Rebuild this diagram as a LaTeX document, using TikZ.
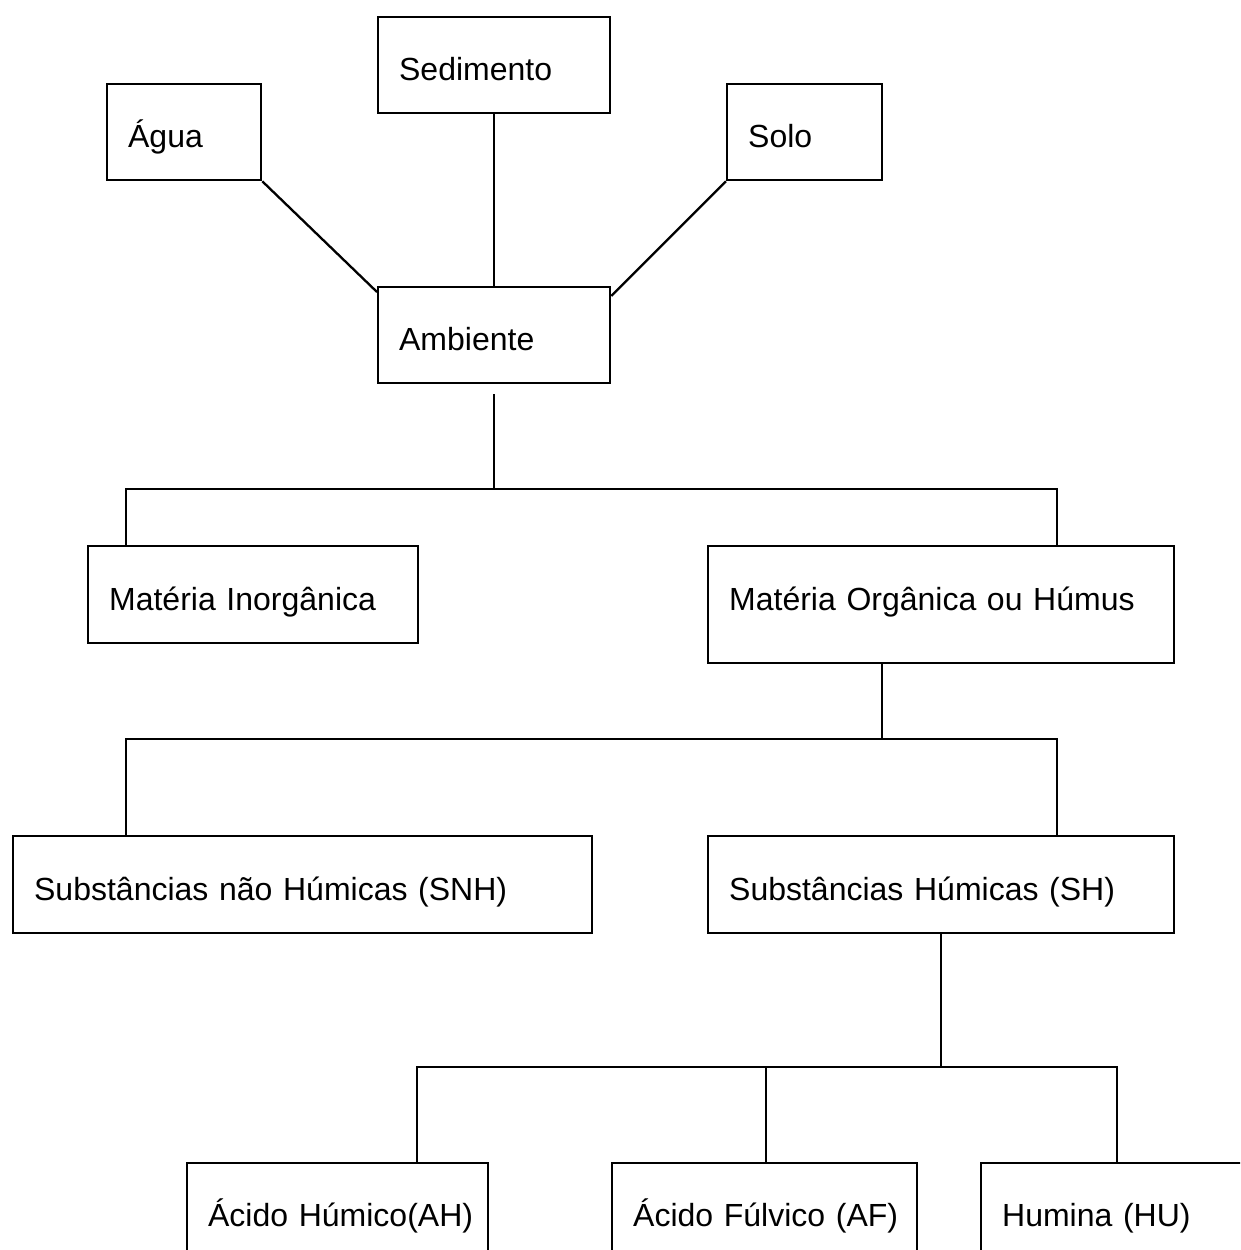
\documentclass[tikz,border=0pt]{standalone}
\usepackage{fontspec}
\setmainfont{Liberation Sans}
\usetikzlibrary{calc}
\tikzset{
  bx/.style={draw, line width=2.3pt, anchor=north west, inner xsep=21pt, inner ysep=0pt,
    align=left, font=\fontsize{32}{38}\selectfont},
  ln/.style={line width=2.3pt},
}
\begin{document}
\begin{tikzpicture}[x=1pt, y=-1pt]
\useasboundingbox (0,0) rectangle (1240,1250);
\clip (0,0) rectangle (1240,1250);
% boxes
\node[bx, text width=190pt, text height=63pt, text depth=33pt] (sed) at (377,16) {Sedimento};
\node[bx, text width=112pt, text height=63pt, text depth=33pt] (agua) at (106,83) {Água};
\node[bx, text width=113pt, text height=63pt, text depth=33pt] (solo) at (726,83) {Solo};
\node[bx, text width=190pt, text height=63pt, text depth=33pt] (amb) at (377,286) {Ambiente};
\node[bx, text width=288pt, text height=64pt, text depth=33pt] (mi) at (87,545) {\mbox{Matéria Inorgânica}};
\node[bx, text width=424pt, text height=64pt, text depth=53pt] (mo) at (707,545) {\mbox{Matéria Orgânica ou Húmus}};
\node[bx, text width=537pt, text height=64pt, text depth=33pt] (snh) at (12,835) {\mbox{Substâncias não Húmicas (SNH)}};
\node[bx, text width=424pt, text height=64pt, text depth=33pt] (sh) at (707,835) {\mbox{Substâncias Húmicas (SH)}};
\node[bx, text width=259pt, text height=63pt, text depth=33pt] (ah) at (186,1162) {\mbox{Ácido Húmico(AH)}};
\node[bx, text width=263pt, text height=63pt, text depth=33pt] (af) at (611,1162) {\mbox{Ácido Fúlvico (AF)}};
\node[bx, text width=263pt, text height=63pt, text depth=33pt] (hu) at (980,1162) {\mbox{Humina (HU)}};
% junctions
\coordinate (j1) at ($(amb.south)+(0,105)$);
\coordinate (j2) at (882,739);
\coordinate (j3) at (941,1067);
% connectors
\draw[ln] (sed.south) -- (amb.north);
\draw[ln] (agua.south east) -- ($(amb.north west)+(0,6)$);
\draw[ln] (solo.south west) -- ($(amb.north east)+(0,10)$);
\draw[ln] ($(amb.south)+(0,10)$) -- (j1);
\draw[ln] ([xshift=39pt]mi.north west) |- (j1) -| ([xshift=350pt]mo.north west);
\draw[ln] ([xshift=175pt]mo.south west) -- (j2);
\draw[ln] ([xshift=114pt]snh.north west) |- (j2) -| ([xshift=350pt]sh.north west);
\draw[ln] ([xshift=234pt]sh.south west) -- (j3);
\draw[ln] ([xshift=231pt]ah.north west) |- (j3) -| ([xshift=137pt]hu.north west);
\coordinate (afc) at ([xshift=155pt]af.north west);
\draw[ln] (afc) -- (afc |- j3);
\end{tikzpicture}
\end{document}
